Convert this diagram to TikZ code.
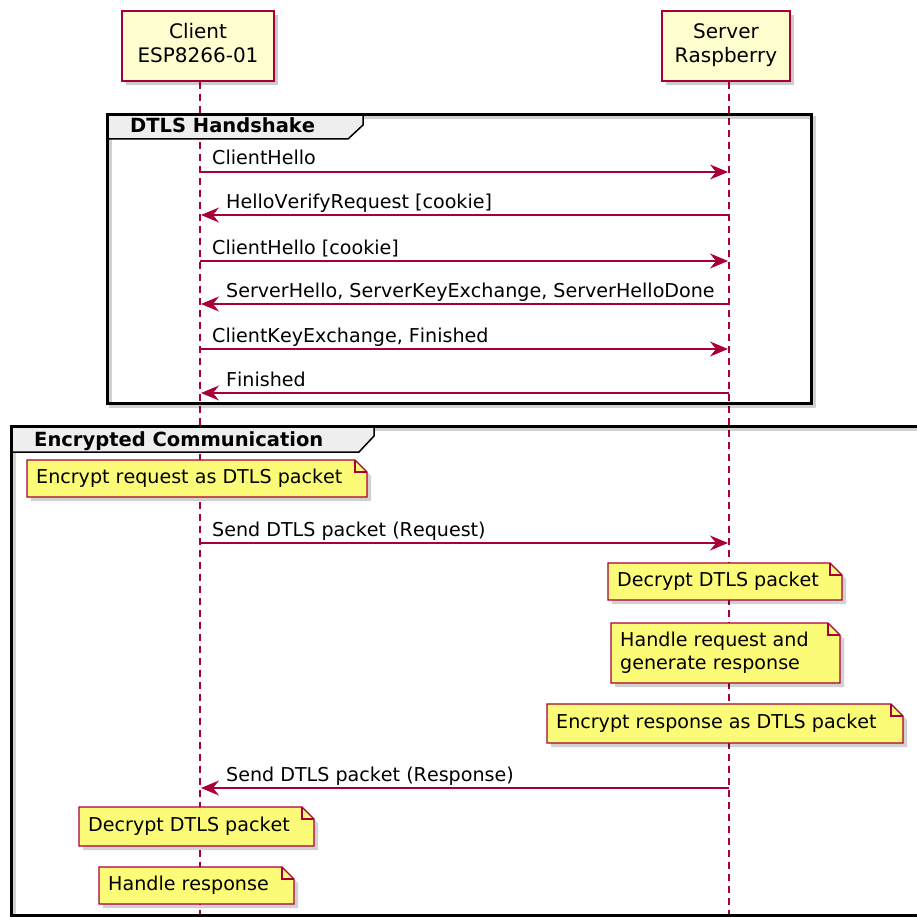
\documentclass[tikz,border=0pt]{standalone}
\usepackage{fontspec}
\setmainfont{DejaVu Sans}[Kerning=Off]
\usetikzlibrary{arrows.meta,calc,shadows}

\definecolor{umlred}{HTML}{A80036}
\definecolor{partfill}{HTML}{FEFECE}
\definecolor{notefill}{HTML}{FBFB77}
\definecolor{tabfill}{HTML}{EEEEEE}

% lifeline positions
\newcommand\clientx{200}
\newcommand\serverx{729}

% message from client to server: id, y, label
\newcommand\msgto[3]{%
  \coordinate (c#1) at (\clientx,#2);
  \coordinate (s#1) at (\serverx,#2);
  \draw[msg] (c#1) -- (s#1);
  \node[msglabel] (l#1) at (\clientx+12,#2-7) {#3};}
% message from server to client: id, y, label
\newcommand\msgfrom[3]{%
  \coordinate (c#1) at (\clientx,#2);
  \coordinate (s#1) at (\serverx,#2);
  \draw[msg] (s#1) -- (c#1);
  \node[msglabel] (l#1) at (\clientx+26,#2-7) {#3};}
% note with folded corner: name, x0, y0, x1, y1, text
\newcommand\umlnote[6]{%
  \fill[notedrop] (#2+4,#3+4) -- (#4-12+4,#3+4) -- (#4+4,#3+12+4) -- (#4+4,#5+4) -- (#2+4,#5+4) -- cycle;
  \draw[notebox] (#2,#3) -- (#4-12,#3) -- (#4,#3+12) -- (#4,#5) -- (#2,#5) -- cycle;
  \draw[notebox, fill=none] (#4-12,#3) -- (#4-12,#3+12) -- (#4,#3+12);
  \node[notetext] (#1) at (#2+9,{(#3+#5)/2}) {\strut #6};}

\begin{document}
\begin{tikzpicture}[x=1pt,y=-1pt,
  participant/.style={draw=umlred, fill=partfill, line width=1.8pt, inner sep=0pt,
    align=center, font=\fontsize{20}{24}\selectfont,
    drop shadow={shadow xshift=4pt, shadow yshift=-4pt, fill=black, opacity=0.2}},
  lifeline/.style={draw=umlred, line width=1.3pt, dash pattern=on 7pt off 5pt},
  msg/.style={draw=umlred, line width=1.3pt, shorten >=1pt,
    -{Stealth[length=18pt, width=15pt, inset=6pt]}},
  msglabel/.style={anchor=base west, inner sep=0pt, font=\fontsize{19.1}{23}\selectfont},
  notebox/.style={draw=umlred, fill=notefill, line width=1.4pt, line join=miter},
  notedrop/.style={fill=black, opacity=0.18},
  notetext/.style={anchor=west, inner sep=0pt, align=left, font=\fontsize{19.1}{23}\selectfont},
  groupframe/.style={draw=black, line width=3pt},
  framedrop/.style={draw=black, opacity=0.18, line width=3pt},
  grouptab/.style={draw=black, fill=tabfill, line width=1.5pt},
  grouptitle/.style={anchor=base west, inner sep=0pt, font=\fontsize{19.5}{23}\selectfont\bfseries}]

\useasboundingbox (0,0) rectangle (917,917);
\clip (0,0) rectangle (917,917);

% participants
\node[participant, minimum width=152pt, minimum height=70pt] (client) at (198,46)
  {\strut Client\\\strut ESP8266-01};
\node[participant, minimum width=128pt, minimum height=70pt] (server) at (726,46)
  {\strut Server\\\strut Raspberry};

% lifelines
\coordinate (clientEnd) at (\clientx,930);
\coordinate (serverEnd) at (\serverx,930);
\draw[lifeline] (client.south -| clientEnd) -- (clientEnd);
\draw[lifeline] (server.south -| serverEnd) -- (serverEnd);

% group: DTLS Handshake
\draw[framedrop] (110,118) rectangle (814,406);
\filldraw[grouptab] (107,115) -- (363,115) -- (363,125) -- (348,139) -- (107,139) -- cycle;
\draw[groupframe] (107,115) rectangle (811,403);
\node[grouptitle] (g1) at (130,133) {DTLS Handshake};

\msgto{1}{172}{ClientHello}
\msgfrom{2}{215}{HelloVerifyRequest [cookie]}
\msgto{3}{261}{ClientHello [cookie]}
\msgfrom{4}{304}{ServerHello, ServerKeyExchange, ServerHelloDone}
\msgto{5}{349}{ClientKeyExchange, Finished}
\msgfrom{6}{393}{Finished}

% group: Encrypted Communication
\draw[framedrop] (14,429) rectangle (943,918);
\filldraw[grouptab] (11,426) -- (374,426) -- (374,436) -- (359,452) -- (11,452) -- cycle;
\draw[groupframe] (11,426) rectangle (940,915);
\node[grouptitle] (g2) at (34,446) {Encrypted Communication};

\umlnote{n1}{27}{460}{367}{497}{Encrypt request as DTLS packet}
\msgto{7}{543}{Send DTLS packet (Request)}
\umlnote{n2}{608}{563}{842}{600}{Decrypt DTLS packet}
\umlnote{n3}{611}{623}{840}{683}{Handle request and\\\strut generate response}
\umlnote{n4}{547}{704}{903}{743}{Encrypt response as DTLS packet}
\msgfrom{8}{788}{Send DTLS packet (Response)}
\umlnote{n5}{79}{807}{314}{846}{Decrypt DTLS packet}
\umlnote{n6}{99}{867}{294}{904}{Handle response}

\end{tikzpicture}
\end{document}
